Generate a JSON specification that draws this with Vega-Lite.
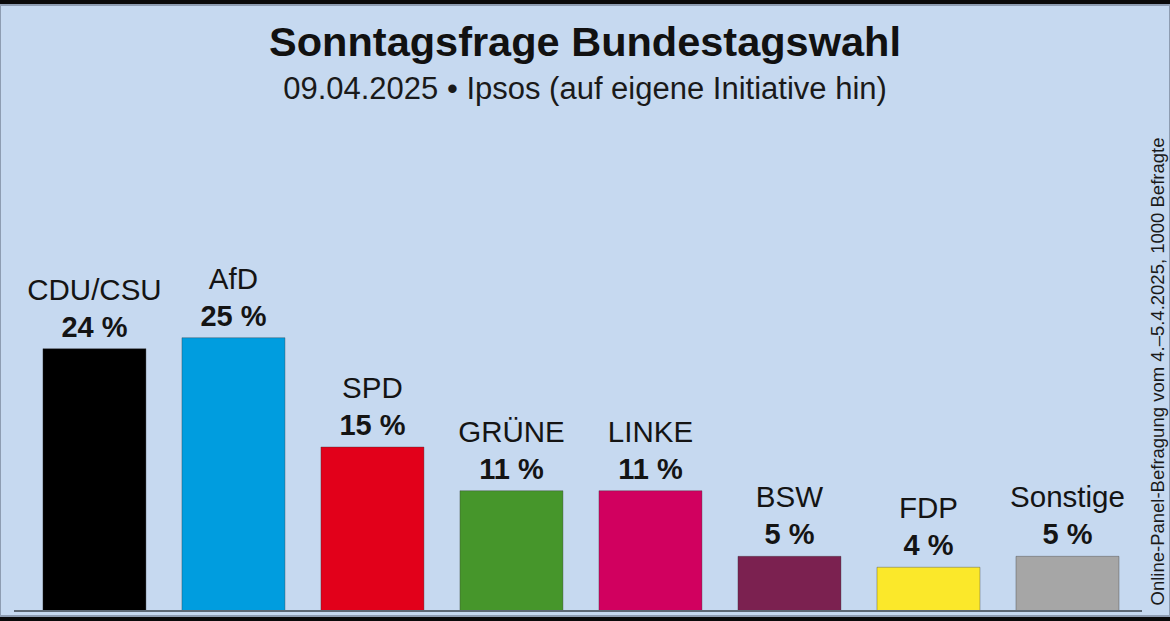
{
  "$schema": "https://vega.github.io/schema/vega-lite/v6.json",
  "autosize": {"type": "none"},
  "width": 1170,
  "height": 611,
  "padding": {"top": 5, "bottom": 5, "left": 0, "right": 0},
  "background": "#0a0a0a",
  "config": {
    "view": {"fill": "#c6d9f0", "stroke": "#8e9db2", "strokeWidth": 2},
    "font": "Liberation Sans"
  },
  "title": {
    "text": "Sonntagsfrage Bundestagswahl",
    "subtitle": "09.04.2025 • Ipsos  (auf eigene Initiative hin)",
    "font": "Liberation Sans",
    "fontSize": 41.5,
    "fontWeight": "bold",
    "color": "#111111",
    "subtitleFont": "Liberation Sans",
    "subtitleFontSize": 31,
    "subtitleColor": "#1a1a1a",
    "subtitlePadding": 11,
    "anchor": "middle",
    "offset": -100
  },
  "data": {
    "values": [
      {"party": "CDU/CSU", "value": 24, "label": "24 %"},
      {"party": "AfD", "value": 25, "label": "25 %"},
      {"party": "SPD", "value": 15, "label": "15 %"},
      {"party": "GRÜNE", "value": 11, "label": "11 %"},
      {"party": "LINKE", "value": 11, "label": "11 %"},
      {"party": "BSW", "value": 5, "label": "5 %"},
      {"party": "FDP", "value": 4, "label": "4 %"},
      {"party": "Sonstige", "value": 5, "label": "5 %"}
    ]
  },
  "encoding": {
    "x": {
      "field": "party",
      "type": "nominal",
      "sort": null,
      "axis": null,
      "scale": {"paddingInner": 0.259, "paddingOuter": 0.338, "align": 0.457}
    },
    "y": {
      "field": "value",
      "type": "quantitative",
      "scale": {"domain": [-0.46, 55.44], "nice": false, "zero": false},
      "axis": {
        "orient": "right",
        "labels": false,
        "ticks": false,
        "domain": false,
        "grid": false,
        "title": "Online-Panel-Befragung vom 4.–5.4.2025, 1000 Befragte",
        "titleFont": "Liberation Sans",
        "titleFontSize": 18.5,
        "titleFontWeight": "normal",
        "titleColor": "#1a1a1a",
        "titleAngle": 270,
        "titleAlign": "left",
        "titleBaseline": "middle",
        "titleX": -13,
        "titleY": 600
      }
    }
  },
  "layer": [
    {
      "mark": {"type": "bar", "strokeWidth": 1, "strokeOpacity": 0.35, "stroke": "#333333"},
      "encoding": {
        "y2": {"datum": 0},
        "color": {
          "field": "party",
          "type": "nominal",
          "legend": null,
          "scale": {
            "domain": ["CDU/CSU", "AfD", "SPD", "GRÜNE", "LINKE", "BSW", "FDP", "Sonstige"],
            "range": ["#000000", "#009ddf", "#e2001a", "#46962b", "#d1005f", "#7b2150", "#fbe82a", "#a6a6a6"]
          }
        }
      }
    },
    {
      "mark": {"type": "rule", "color": "#5d6874", "strokeWidth": 2},
      "encoding": {
        "y": {"datum": 0},
        "x": {"datum": "CDU/CSU", "bandPosition": -0.28},
        "x2": {"datum": "Sonstige", "bandPosition": 1.22}
      }
    },
    {
      "mark": {"type": "text", "baseline": "alphabetic", "dy": -49, "fontSize": 29.5, "color": "#141414"},
      "encoding": {"text": {"field": "party"}}
    },
    {
      "mark": {"type": "text", "baseline": "alphabetic", "dy": -12, "fontSize": 29, "fontWeight": "bold", "color": "#141414"},
      "encoding": {"text": {"field": "label"}}
    }
  ]
}
